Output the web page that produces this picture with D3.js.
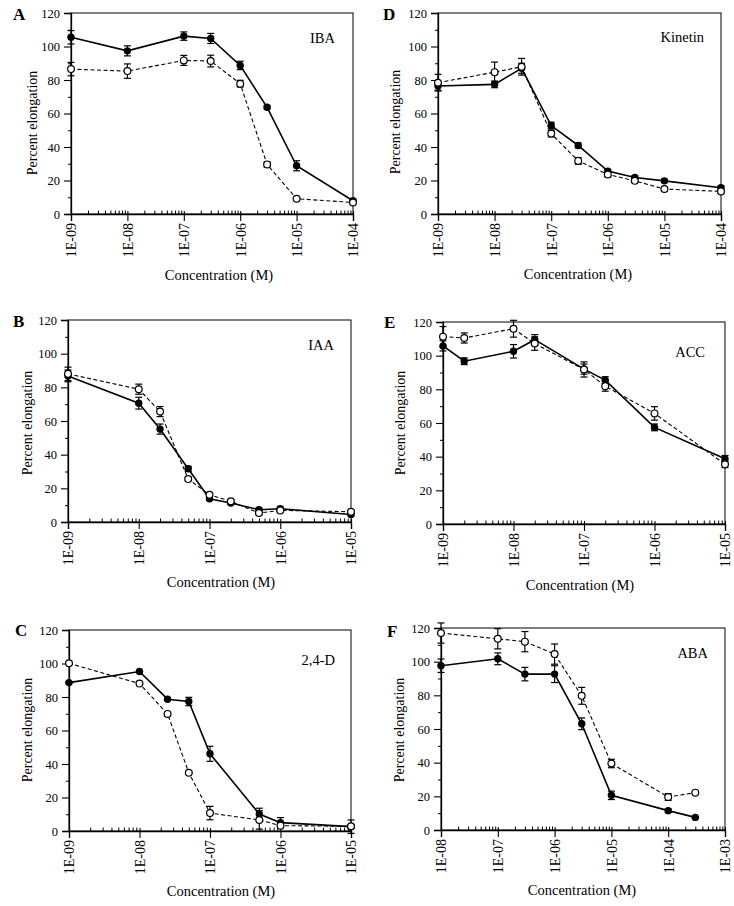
<!DOCTYPE html>
<html><head><meta charset="utf-8">
<script src="https://cdn.jsdelivr.net/npm/d3@7"></script>
<style>
body{margin:0;background:#fff}
svg{display:block}
text{font-family:"Liberation Serif","Times New Roman",serif;fill:#000}
</style>
</head><body>
<svg id="c" width="734" height="906"></svg>
<script>
// ---------- DATA ----------
const concA = [1e-9, 1e-8, 1e-7, 3e-7, 1e-6, 3e-6, 1e-5, 1e-4];
const filledA = [105.5, 97.4, 106.2, 104.8, 88.7, 63.7, 28.8, 7.9];
const filledErrA = [4, 3, 2.5, 3, 2.5, 1, 3, 1];
const openA = [86.5, 85.3, 91.7, 91.3, 77.8, 29.6, 9.1, 6.9];
const openErrA = [4, 4.3, 3, 3.5, 2, 1.5, 0.5, 0.5];
const xLabelsA = ["1E-09", "1E-08", "1E-07", "1E-06", "1E-05", "1E-04"];

const concB = [1e-9, 1e-8, 2e-8, 5e-8, 1e-7, 2e-7, 5e-7, 1e-6, 1e-5];
const filledB = [86.8, 70.6, 55.2, 31.6, 13.8, 11.3, 7.3, 7.9, 4.5];
const filledErrB = [3.5, 3.5, 3, 1.5, 1, 1, 1, 1, 1];
const openB = [88.0, 78.9, 65.6, 25.5, 16.2, 12.3, 5.3, 6.9, 6.1];
const openErrB = [4, 3, 3, 1, 1, 1, 1, 1, 1];
const xLabelsB = ["1E-09", "1E-08", "1E-07", "1E-06", "1E-05"];

const concC = [1e-9, 1e-8, 2.5e-8, 5e-8, 1e-7, 5e-7, 1e-6, 1e-5];
const filledC = [88.6, 95.2, 78.7, 77.3, 46.1, 10.1, 5.0, 2.6];
const filledErrC = [0.5, 0.5, 0.5, 2.5, 4.5, 3.5, 3, 4];
const openC = [100.1, 88.0, 69.9, 34.8, 10.7, 6.6, 3.2, 2.8];
const openErrC = [0.5, 0.5, 0.5, 0.5, 4, 5.5, 1, 1];
const xLabelsC = ["1E-09", "1E-08", "1E-07", "1E-06", "1E-05"];

const concD = [1e-9, 1e-8, 3e-8, 1e-7, 3e-7, 1e-6, 3e-6, 1e-5, 1e-4];
const filledD = [76.4, 77.4, 87.0, 52.8, 40.9, 25.6, 21.8, 19.8, 15.7];
const filledErrD = [2.5, 2, 3, 2, 1.5, 1, 1, 1, 1];
const openD = [78.4, 84.7, 87.9, 48.0, 31.7, 23.6, 19.8, 14.9, 13.5];
const openErrD = [5, 6, 5, 2, 2, 1.5, 1, 1, 1];
const xLabelsD = ["1E-09", "1E-08", "1E-07", "1E-06", "1E-05", "1E-04"];

const concE = [1e-9, 2e-9, 1e-8, 2e-8, 1e-7, 2e-7, 1e-6, 1e-5];
const filledE = [105.8, 96.7, 102.6, 109.5, 92.0, 85.5, 57.4, 38.7];
const filledErrE = [3, 2, 4, 3, 3, 2, 2, 2];
const openE = [111.3, 110.5, 116.0, 107.2, 91.8, 81.9, 65.7, 35.5];
const openErrE = [6, 3, 5, 4, 4.5, 3, 4, 2];
const xLabelsE = ["1E-09", "1E-08", "1E-07", "1E-06", "1E-05"];

const concF = [1e-8, 1e-7, 3e-7, 1e-6, 3e-6, 1e-5, 1e-4, 3e-4];
const filledF = [97.6, 101.7, 92.6, 92.6, 63.1, 20.6, 11.5, 7.5];
const filledErrF = [4, 3.5, 4, 5, 3.5, 2.5, 1, 0.5];
const openF = [117.0, 113.6, 111.9, 104.5, 79.7, 39.5, 19.6, 22.2];
const openErrF = [6, 6, 6, 6, 5, 2.5, 2, 0.5];
const xLabelsF = ["1E-08", "1E-07", "1E-06", "1E-05", "1E-04", "1E-03"];

const yTicks = [0, 20, 40, 60, 80, 100, 120];
const yMinorTicks = [10, 30, 50, 70, 90, 110];

const panels = [
  {key: "A", name: "IBA", conc: concA, filled: filledA, filledErr: filledErrA, open: openA, openErr: openErrA, domain: [1e-9, 1e-4], labels: xLabelsA},
  {key: "B", name: "IAA", conc: concB, filled: filledB, filledErr: filledErrB, open: openB, openErr: openErrB, domain: [1e-9, 1e-5], labels: xLabelsB},
  {key: "C", name: "2,4-D", conc: concC, filled: filledC, filledErr: filledErrC, open: openC, openErr: openErrC, domain: [1e-9, 1e-5], labels: xLabelsC},
  {key: "D", name: "Kinetin", conc: concD, filled: filledD, filledErr: filledErrD, open: openD, openErr: openErrD, domain: [1e-9, 1e-4], labels: xLabelsD},
  {key: "E", name: "ACC", conc: concE, filled: filledE, filledErr: filledErrE, open: openE, openErr: openErrE, domain: [1e-9, 1e-5], labels: xLabelsE},
  {key: "F", name: "ABA", conc: concF, filled: filledF, filledErr: filledErrF, open: openF, openErr: openErrF, domain: [1e-8, 1e-3], labels: xLabelsF}
];

// ---------- LAYOUT ----------
const layout = {
  A: {left: 71, right: 353, top: 13, bottom: 214, lx: 13, ly: 20, nx: 335, ny: 43, tx: 219, ty: 280, yx: 32, yy: 123},
  B: {left: 68, right: 351, top: 320, bottom: 522, lx: 13, ly: 327, nx: 334, ny: 350, tx: 221, ty: 587, yx: 27, yy: 423},
  C: {left: 69, right: 351, top: 630, bottom: 831, lx: 15, ly: 636, nx: 335, ny: 665, tx: 221, ty: 896, yx: 27, yy: 730},
  D: {left: 438, right: 721, top: 13, bottom: 214, lx: 383, ly: 20, nx: 704, ny: 42, tx: 578, ty: 279, yx: 395, yy: 122},
  E: {left: 443, right: 725, top: 322, bottom: 524, lx: 384, ly: 328, nx: 705, ny: 357, tx: 580, ty: 590, yx: 400, yy: 423},
  F: {left: 441, right: 725, top: 628, bottom: 830, lx: 387, ly: 637, nx: 708, ny: 658, tx: 582, ty: 895, yx: 399, yy: 730}
};

const svg = d3.select("#c");

panels.forEach(p => {
  const L = layout[p.key];
  const x = d3.scaleLog().domain(p.domain).range([L.left, L.right]);
  const y = d3.scaleLinear().domain([0, 120]).range([L.bottom, L.top]);
  const g = svg.append("g");

  // frame
  g.append("rect").attr("x", L.left).attr("y", L.top)
    .attr("width", L.right - L.left).attr("height", L.bottom - L.top)
    .attr("fill", "none").attr("stroke", "#000").attr("stroke-width", 1);

  // y axis major
  const ya = g.append("g").attr("transform", `translate(${L.left},0)`)
    .call(d3.axisLeft(y).tickValues(yTicks).tickSize(7).tickPadding(4).tickFormat(d3.format("d")));
  ya.select(".domain").attr("stroke-width", 1.3);
  ya.selectAll("line").attr("stroke-width", 1.1);
  ya.selectAll("text").style("font-size", "12.5px").attr("font-family", null);
  // y axis minor
  const ym = g.append("g").attr("transform", `translate(${L.left},0)`)
    .call(d3.axisLeft(y).tickValues(yMinorTicks).tickSize(3).tickFormat(""));
  ym.select(".domain").remove();

  // x axis
  const decades = [];
  for (let d = p.domain[0]; d <= p.domain[1] * 1.0001; d *= 10) decades.push(d);
  const minors = [];
  decades.slice(0, -1).forEach(d => { for (let k = 2; k <= 9; k++) minors.push(d * k); });

  const xa = g.append("g").attr("transform", `translate(0,${L.bottom})`)
    .call(d3.axisBottom(x).tickValues(decades).tickSize(7).tickFormat((d, i) => p.labels[i]));
  xa.select(".domain").attr("stroke-width", 1.3);
  xa.selectAll(".tick line").attr("y1", -3).attr("stroke-width", 1.1);
  xa.selectAll("text")
    .attr("transform", "rotate(-90)")
    .attr("x", -9).attr("y", 0).attr("dy", "0.35em")
    .attr("text-anchor", "end")
    .style("font-size", "14px").attr("font-family", null);
  const xm = g.append("g").attr("transform", `translate(0,${L.bottom})`)
    .call(d3.axisBottom(x).tickValues(minors).tickSize(-3.5).tickFormat(""));
  xm.select(".domain").remove();

  // lines
  const pts = (vals) => p.conc.map((c, i) => [x(c), y(vals[i])]);
  const line = d3.line();
  g.append("path").attr("d", line(pts(p.filled))).attr("fill", "none")
    .attr("stroke", "#000").attr("stroke-width", 1.6);
  g.append("path").attr("d", line(pts(p.open))).attr("fill", "none")
    .attr("stroke", "#000").attr("stroke-width", 1.1).attr("stroke-dasharray", "4,2.5");

  // error bars
  const errs = (vals, errsArr) => p.conc.map((c, i) => ({c, v: vals[i], e: errsArr[i]}));
  [errs(p.filled, p.filledErr), errs(p.open, p.openErr)].forEach(arr => {
    arr.forEach(d => {
      const cx = x(d.c), yt = y(d.v + d.e), yb = y(d.v - d.e);
      g.append("line").attr("x1", cx).attr("x2", cx).attr("y1", yt).attr("y2", yb)
        .attr("stroke", "#000").attr("stroke-width", 1.2);
      [yt, yb].forEach(yy => g.append("line").attr("x1", cx - 3.5).attr("x2", cx + 3.5)
        .attr("y1", yy).attr("y2", yy).attr("stroke", "#000").attr("stroke-width", 1.2));
    });
  });

  // markers
  g.selectAll(".f").data(p.conc).enter().append("circle")
    .attr("cx", d => x(d)).attr("cy", (d, i) => y(p.filled[i])).attr("r", 3.7)
    .attr("fill", "#000");
  g.selectAll(".o").data(p.conc).enter().append("circle")
    .attr("cx", d => x(d)).attr("cy", (d, i) => y(p.open[i])).attr("r", 3.4)
    .attr("fill", "#fff").attr("stroke", "#000").attr("stroke-width", 1.2);

  // texts
  g.append("text").attr("x", L.lx).attr("y", L.ly).text(p.key)
    .style("font-size", "17px").style("font-weight", "bold");
  g.append("text").attr("x", L.nx).attr("y", L.ny).attr("text-anchor", "end")
    .text(p.name).style("font-size", "14.5px");
  g.append("text").attr("x", L.tx).attr("y", L.ty).attr("text-anchor", "middle")
    .text("Concentration (M)").style("font-size", "14.5px");
  g.append("text").attr("transform", `translate(${L.yx},${L.yy}) rotate(-90)`)
    .attr("text-anchor", "middle").attr("dy", "0.35em")
    .text("Percent elongation").style("font-size", "14px");
});
</script>
</body></html>
